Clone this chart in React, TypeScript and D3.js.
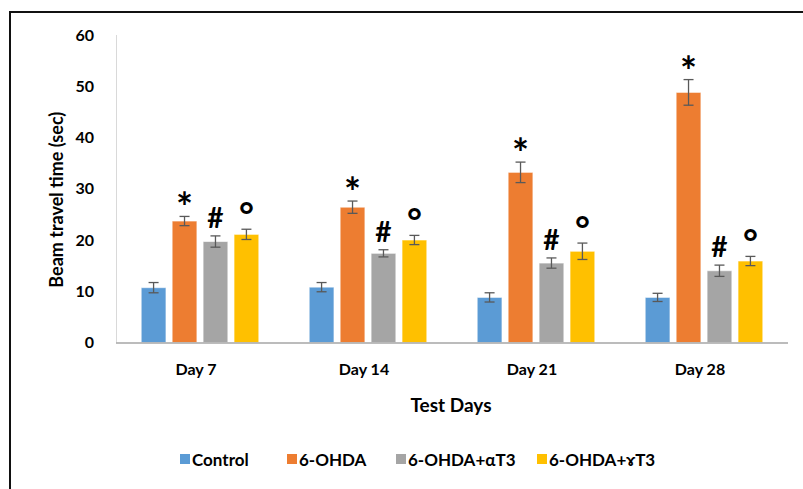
import React, { useEffect, useRef } from "react"
import * as d3 from "d3"

const days = [ "Day 7", "Day 14", "Day 21", "Day 28" ]
const groups = [ "Control", "6-OHDA", "6-OHDA+αT3", "6-OHDA+ɤT3" ]
const colors = [ "#5B9BD5", "#ED7D31", "#A5A5A5", "#FFC000" ]

// mean values per group, one entry per day
const control = [ 10.7, 10.8, 8.8, 8.8 ]
const ohda = [ 23.7, 26.4, 33.2, 48.8 ]
const alphaT3 = [ 19.7, 17.4, 15.5, 14.0 ]
const gammaT3 = [ 21.1, 20.0, 17.8, 15.9 ]

// standard errors
const controlErr = [ 1.0, 0.9, 0.9, 0.8 ]
const ohdaErr = [ 0.9, 1.2, 2.0, 2.5 ]
const alphaErr = [ 1.1, 0.7, 1.0, 1.1 ]
const gammaErr = [ 1.0, 0.9, 1.6, 0.9 ]

// significance marks drawn over each group's bars
const marks = [ "", "*", "#", "°" ]

const yTicks = [ 0, 10, 20, 30, 40, 50, 60 ]

const font = "Lato, 'Open Sans', sans-serif"

export default function App() {
  const ref = useRef<SVGSVGElement>(null)

  useEffect(() => {
    const w = 803
    const h = 489
    const svg = d3.select(ref.current)
    svg.selectAll("*").remove()
    svg.attr("width", w).attr("height", h)

    // frame of the pasted figure
    svg.append("rect")
      .attr("x", 10).attr("y", 12)
      .attr("width", w + 20).attr("height", h + 20)
      .attr("fill", "white")
      .attr("stroke", "#111").attr("stroke-width", 2)

    const values = [ control, ohda, alphaT3, gammaT3 ]
    const errors = [ controlErr, ohdaErr, alphaErr, gammaErr ]

    const x0 = d3.scaleBand()
      .domain(days)
      .range([ 116, 788 ])
      .paddingInner(0.3)
      .paddingOuter(0.15)

    const x1 = d3.scaleBand()
      .domain(groups)
      .range([ 0, x0.bandwidth() ])
      .paddingInner(0.2)

    const y = d3.scaleLinear()
      .domain([ 0, 60 ])
      .range([ 342.5, 35 ])

    // y axis
    svg.append("line")
      .attr("x1", 116.5).attr("x2", 116.5)
      .attr("y1", y(60)).attr("y2", y(0))
      .attr("stroke", "#D9D9D9").attr("stroke-width", 1)

    svg.append("g")
      .selectAll("text")
      .data(yTicks)
      .enter()
      .append("text")
      .attr("x", 94)
      .attr("y", d => y(d))
      .attr("dy", "0.35em")
      .attr("text-anchor", "end")
      .attr("font-family", font)
      .attr("font-weight", "bold")
      .attr("font-size", 16)
      .attr("fill", "#000")
      .text(d => d)

    svg.append("text")
      .attr("transform", `translate(63,${ (y(0) + y(60)) / 2 + 11 }) rotate(-90)`)
      .attr("text-anchor", "middle")
      .attr("font-family", font)
      .attr("font-weight", "bold")
      .attr("font-size", 18)
      .text("Beam travel time (sec)")

    // bars
    const rows = days.flatMap((day, i) =>
      groups.map((g, j) => ({ day, g, j, v: values[ j ][ i ], e: errors[ j ][ i ] }))
    )

    const barG = svg.append("g")
    barG.selectAll("rect")
      .data(rows)
      .enter()
      .append("rect")
      .attr("x", d => (x0(d.day) as number) + (x1(d.g) as number))
      .attr("y", d => y(d.v))
      .attr("width", x1.bandwidth())
      .attr("height", d => y(0) - y(d.v))
      .attr("fill", d => colors[ d.j ])
      .attr("stroke", "rgba(255,255,255,0.6)")
      .attr("stroke-width", 1)

    // x axis line
    svg.append("line")
      .attr("x1", 116).attr("x2", 788)
      .attr("y1", y(0) + 0.5).attr("y2", y(0) + 0.5)
      .attr("stroke", "#A6A6A6").attr("stroke-width", 1.5)

    // error bars
    const cx = (d: any) => (x0(d.day) as number) + (x1(d.g) as number) + x1.bandwidth() / 2
    const errG = svg.append("g").attr("stroke", "#595959").attr("stroke-width", 1.3)
    rows.forEach(d => {
      const c = cx(d)
      errG.append("line").attr("x1", c).attr("x2", c).attr("y1", y(d.v + d.e)).attr("y2", y(d.v - d.e))
      errG.append("line").attr("x1", c - 5).attr("x2", c + 5).attr("y1", y(d.v + d.e)).attr("y2", y(d.v + d.e))
      errG.append("line").attr("x1", c - 5).attr("x2", c + 5).attr("y1", y(d.v - d.e)).attr("y2", y(d.v - d.e))
    })

    // significance marks, offset above the error bar top
    const markSize = [ 0, 40, 28, 36 ]
    const markLift = [ 0, -6, 8, 1 ]
    svg.append("g")
      .selectAll("text")
      .data(rows.filter(d => marks[ d.j ] !== ""))
      .enter()
      .append("text")
      .attr("x", d => cx(d))
      .attr("y", d => y(d.v + d.e) - markLift[ d.j ])
      .attr("text-anchor", "middle")
      .attr("font-family", font)
      .attr("font-weight", "bold")
      .attr("font-size", d => markSize[ d.j ])
      .text(d => marks[ d.j ])

    // category labels
    svg.append("g")
      .selectAll("text")
      .data(days)
      .enter()
      .append("text")
      .attr("x", d => (x0(d) as number) + x0.bandwidth() / 2 - 4)
      .attr("y", 375)
      .attr("text-anchor", "middle")
      .attr("font-family", font)
      .attr("font-weight", "bold")
      .attr("font-size", 16)
      .text(d => d)

    svg.append("text")
      .attr("x", 451).attr("y", 412)
      .attr("text-anchor", "middle")
      .attr("font-family", font)
      .attr("font-weight", "bold")
      .attr("font-size", 19)
      .text("Test Days")

    // legend
    const legendX = [ 180, 287, 396, 537 ]
    const leg = svg.append("g")
    groups.forEach((g, j) => {
      leg.append("rect")
        .attr("x", legendX[ j ]).attr("y", 454)
        .attr("width", 10).attr("height", 10)
        .attr("fill", colors[ j ])
      leg.append("text")
        .attr("x", legendX[ j ] + 12).attr("y", 466)
        .attr("font-family", font)
        .attr("font-weight", "bold")
        .attr("font-size", 17)
        .text(g)
    })
  }, [])

  return <svg ref={ref} style={{ position: "absolute", left: 0, top: 0 }}></svg>
}
